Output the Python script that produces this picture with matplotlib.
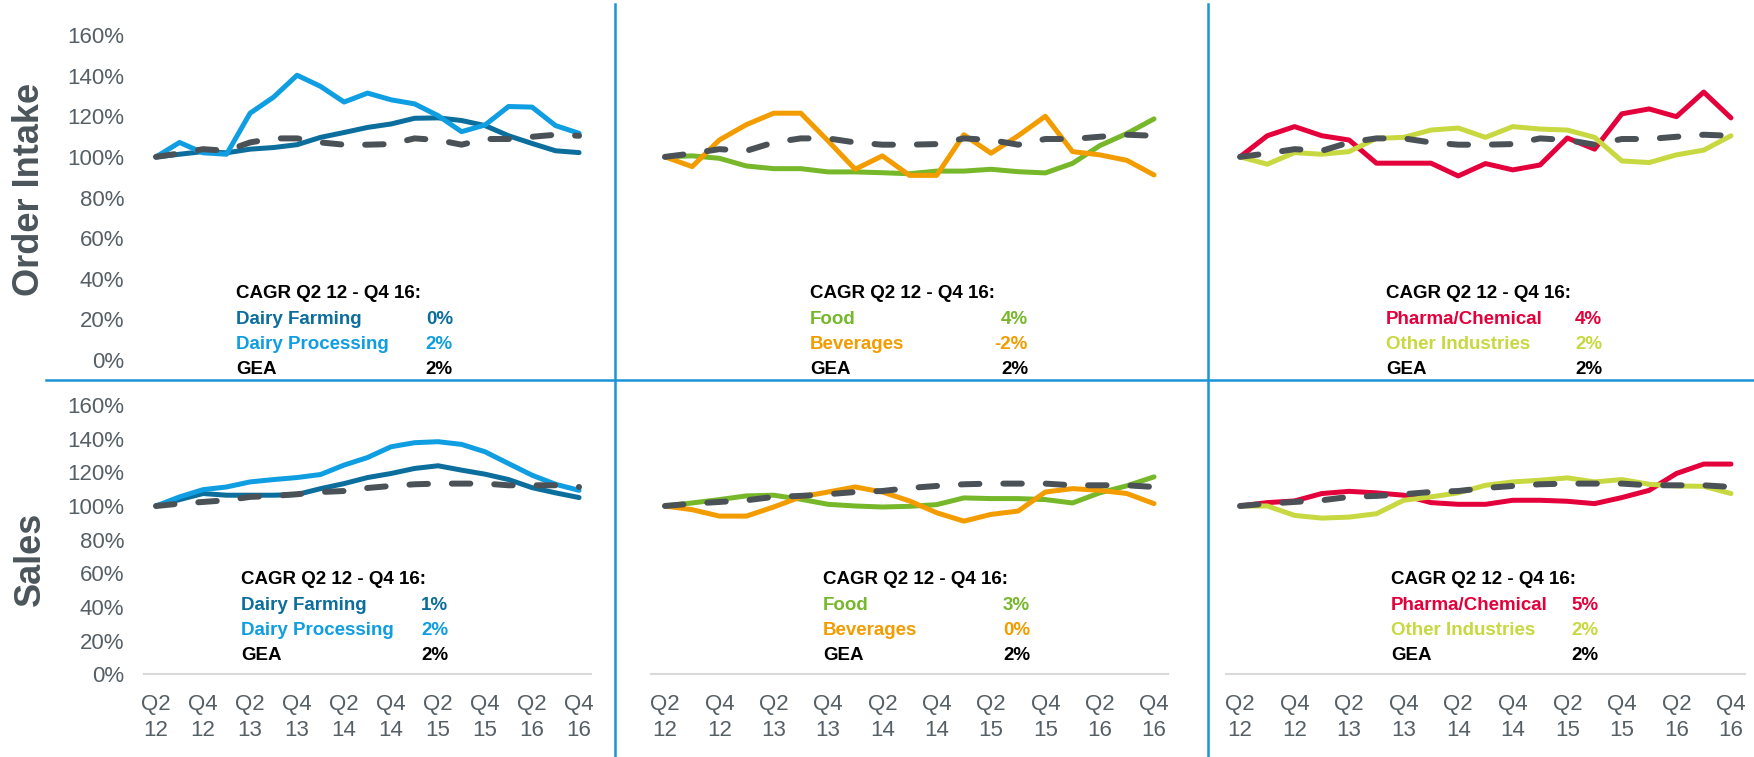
import matplotlib
matplotlib.use("Agg")
import matplotlib.pyplot as plt
from matplotlib.lines import Line2D
from matplotlib.ticker import PercentFormatter

plt.rcParams['font.family'] = ['Liberation Sans', 'DejaVu Sans']

# quarters Q2 12 .. Q4 16 (indexed, Q2 12 = 100%)
quarters = ['Q2 12', 'Q3 12', 'Q4 12', 'Q1 13', 'Q2 13', 'Q3 13', 'Q4 13', 'Q1 14', 'Q2 14', 'Q3 14',
            'Q4 14', 'Q1 15', 'Q2 15', 'Q3 15', 'Q4 15', 'Q1 16', 'Q2 16', 'Q3 16', 'Q4 16']
tick_labels = ['Q2\n12', 'Q4\n12', 'Q2\n13', 'Q4\n13', 'Q2\n14', 'Q4\n14', 'Q2\n15', 'Q4\n15', 'Q2\n16', 'Q4\n16']

# order intake
oi_dairy_farming = [100, 101.3, 102.6, 102, 103.8, 104.6, 106, 109.6, 112, 114.5, 116.2, 119, 119.2, 117.9, 115.4, 110.4, 106.6, 103, 102.1]
oi_dairy_processing = [100, 107.1, 102, 101.3, 121.5, 129.4, 140.2, 134.7, 127, 131.4, 128.1, 126.1, 120.3, 112.4, 115.7, 124.8, 124.5, 115.4, 111.6]
oi_food = [100, 100.5, 99.3, 95.5, 94.2, 94.2, 92.6, 92.6, 92.2, 91.7, 93, 93, 93.9, 92.7, 92.1, 96.8, 105.5, 111.5, 118.7]
oi_beverages = [100, 95.2, 108.3, 115.9, 121.5, 121.5, 107.9, 93.9, 100.5, 90.9, 90.9, 110.9, 101.8, 110.4, 120, 102.6, 101, 98.3, 91.1]
oi_pharma = [100, 110.4, 114.9, 110.4, 108.3, 96.9, 96.9, 96.9, 90.6, 96.7, 93.6, 96, 109.3, 103.8, 121.2, 123.6, 119.8, 131.9, 119.2]
oi_other = [100, 96.4, 102.1, 101.3, 102.6, 109.1, 109.6, 113.2, 114.2, 109.6, 114.9, 113.7, 113.2, 109.6, 98, 97.2, 101, 103.3, 110.4]
oi_gea = [100, 101.7, 103.8, 103, 107.1, 109.1, 109.1, 107.1, 106, 106, 106.3, 109.1, 108.3, 106, 108.8, 108.8, 109.9, 110.9, 110.4]

# sales
s_dairy_farming = [100, 103.8, 107.4, 106.4, 106.4, 106.4, 106.8, 110.3, 113.3, 116.9, 119.3, 122.3, 123.9, 121.3, 118.9, 115.7, 110.9, 107.8, 105]
s_dairy_processing = [100, 105.4, 109.7, 111.3, 114.3, 115.7, 116.9, 118.7, 124.3, 128.8, 135.2, 137.6, 138.2, 136.6, 132.2, 125.2, 118.3, 112.9, 109.3]
s_food = [100, 101.8, 103.8, 106, 106.4, 104, 101, 100, 99.4, 99.8, 100.8, 104.8, 104.4, 104.4, 103.8, 101.8, 107.8, 112, 117.3]
s_beverages = [100, 97.8, 94, 94, 99.4, 105.4, 108.3, 111.3, 108.3, 103, 96, 91, 95, 97, 108.3, 110.3, 109.3, 107.4, 101.4]
s_pharma = [100, 102, 103, 107.4, 108.7, 107.8, 106.4, 102, 101, 101, 103.4, 103.4, 102.8, 101.4, 105, 109.3, 119.3, 124.9, 124.9]
s_other = [100, 100, 94.4, 92.8, 93.4, 95.4, 103.4, 105.4, 107.8, 112.3, 114.3, 115.3, 116.7, 114.3, 115.7, 112.9, 111.9, 111.7, 107.4]
s_gea = [100, 101.4, 102.4, 103.4, 105.4, 106, 107, 108.3, 108.9, 110.7, 111.9, 112.9, 113.3, 113.3, 113.3, 112.3, 112.3, 112.3, 111.3]

# CAGR Q2 12 - Q4 16 labels
seg_names = [['Dairy Farming', 'Dairy Processing'], ['Food', 'Beverages'], ['Pharma/Chemical', 'Other Industries']]
cagr_oi = [['0%', '2%'], ['4%', '-2%'], ['4%', '2%']]
cagr_sales = [['1%', '2%'], ['3%', '0%'], ['5%', '2%']]
cagr_gea = '2%'

seg_colors = [['#0b6e9c', '#0f9ee1'], ['#76b82a', '#f39c00'], ['#e4003b', '#c8d840']]
gea_color = '#4a5258'
sep_color = '#1b94d6'
grey = '#555f66'

W, H = 1754, 757
fig = plt.figure(figsize=(W / 100, H / 100), dpi=100)

def fx(x):
    return x / W

def fy(y):
    return 1 - y / H

col_px = [(144.3, 590.8), (651.4, 1167.6), (1226.4, 1744.6)]
row_px = [(360, 35), (674.3, 405)]

oi_data = [(oi_dairy_farming, oi_dairy_processing), (oi_food, oi_beverages), (oi_pharma, oi_other)]
s_data = [(s_dairy_farming, s_dairy_processing), (s_food, s_beverages), (s_pharma, s_other)]
gea_data = [oi_gea, s_gea]

# text block positions: (x start, value right edge, first line y)
txt_pos = [[(236, 453, 294), (810, 1028, 294), (1386, 1602, 294)],
           [(241, 448, 580), (823, 1030, 580), (1391, 1599, 580)]]

x = list(range(len(quarters)))

for r in range(2):
    ybot, ytop = row_px[r]
    data = oi_data if r == 0 else s_data
    cagr = cagr_oi if r == 0 else cagr_sales
    for c in range(3):
        x0, x1 = col_px[c]
        ax = fig.add_axes([fx(x0), fy(ybot), fx(x1 - x0), (ybot - ytop) / H])
        a, b = data[c]
        ax.plot(x, [v / 100 for v in a], color=seg_colors[c][0], lw=3.6, solid_capstyle='round', solid_joinstyle='round')
        ax.plot(x, [v / 100 for v in b], color=seg_colors[c][1], lw=3.6, solid_capstyle='round', solid_joinstyle='round')
        ax.plot(x, [v / 100 for v in gea_data[r]], color=gea_color, lw=4.3,
                linestyle=(0, (3.1, 4.0)), dash_capstyle='round')
        ax.set_xlim(-0.5, len(quarters) - 0.5)
        ax.set_ylim(0, 1.6)
        ax.set_yticks([i * 0.2 for i in range(9)])
        ax.yaxis.set_major_formatter(PercentFormatter(1.0, decimals=0))
        ax.set_xticks(x[::2])
        ax.set_xticklabels(tick_labels, linespacing=1.28)
        ax.tick_params(length=0, labelsize=16, labelcolor=grey, pad=14.5)
        for s in ['top', 'right', 'left']:
            ax.spines[s].set_visible(False)
        if r == 0:
            ax.spines['bottom'].set_visible(False)
            ax.set_xticklabels([])
        else:
            ax.spines['bottom'].set_color('#d9d9d9')
            ax.spines['bottom'].set_linewidth(1.5)
        if c > 0:
            ax.set_yticklabels([])
        ax.patch.set_visible(False)

        # CAGR text block
        tx, vx, ty = txt_pos[r][c]
        lines = [('CAGR Q2 12 - Q4 16:', '', 'black'),
                 (seg_names[c][0], cagr[c][0], seg_colors[c][0]),
                 (seg_names[c][1], cagr[c][1], seg_colors[c][1]),
                 ('GEA', cagr_gea, 'black')]
        for i, (name, val, col) in enumerate(lines):
            yy = ty + i * 25.2
            fig.text(fx(tx), fy(yy), name, color=col, fontsize=13.5, fontweight='bold',
                     ha='left', va='center')
            if val:
                fig.text(fx(vx), fy(yy), val, color=col, fontsize=13.5, fontweight='bold',
                         ha='right', va='center')

# row labels
fig.text(fx(30), fy(189), 'Order Intake', rotation=90, fontsize=26, fontweight='bold',
         color='#4b555c', ha='center', va='center')
fig.text(fx(30), fy(559), 'Sales', rotation=90, fontsize=26, fontweight='bold',
         color='#4b555c', ha='center', va='center')

# separators
fig.add_artist(Line2D([fx(46), 1], [fy(380), fy(380)], color=sep_color, lw=1.8))
for xs in [615, 1208]:
    fig.add_artist(Line2D([fx(xs), fx(xs)], [0, fy(4)], color=sep_color, lw=1.8))

fig.savefig('out.png', dpi=100)
